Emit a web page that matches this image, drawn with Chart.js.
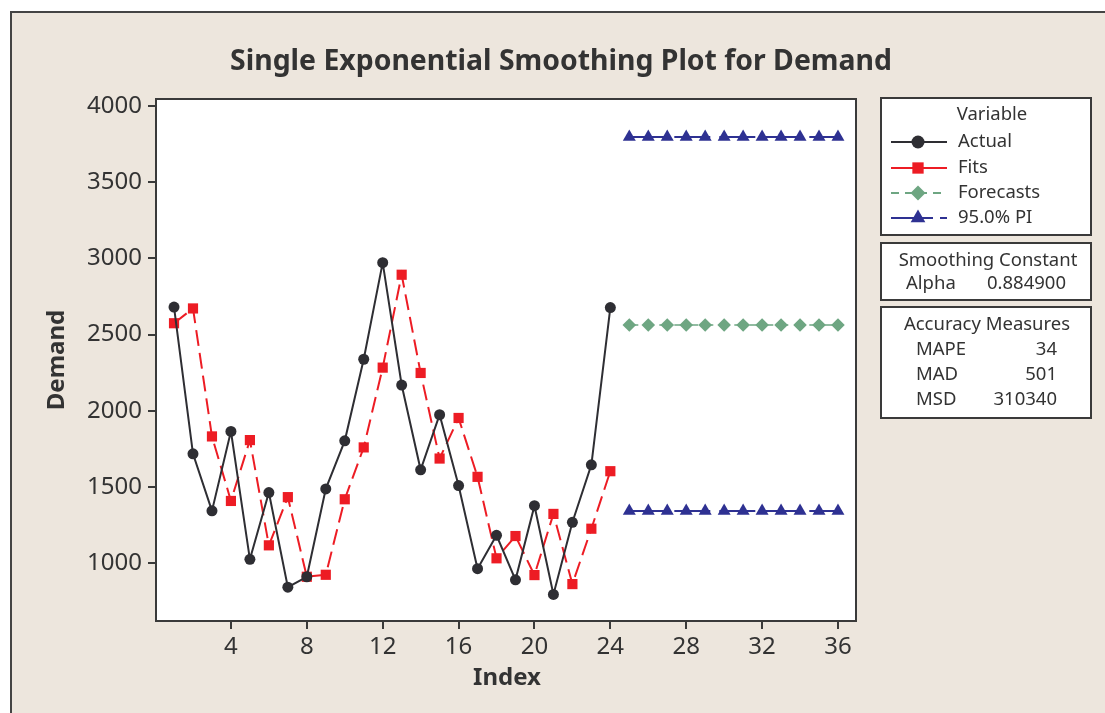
<!DOCTYPE html>
<html>
<head>
<meta charset="utf-8">
<script src="https://cdn.jsdelivr.net/npm/chart.js@4.4.1/dist/chart.umd.min.js"></script>
<style>
  html, body { margin: 0; padding: 0; background: #fff; }
  #wrap { width: 1105px; height: 713px; position: relative; }
</style>
</head>
<body>
<div id="wrap"><canvas id="demand-ses"></canvas></div>
<script>
// data
const actualIndex = [1, 2, 3, 4, 5, 6, 7, 8, 9, 10, 11, 12, 13, 14, 15, 16, 17, 18, 19, 20, 21, 22, 23, 24];
const actualDemand = [2680, 1718, 1344, 1865, 1026, 1464, 844, 912, 1488, 1803, 2338, 2971, 2169, 1613, 1974, 1510, 965, 1184, 892, 1378, 796, 1269, 1646, 2677];
const fitsDemand = [2574, 2671, 1832, 1409, 1808, 1118, 1434, 912, 925, 1420, 1760, 2283, 2892, 2248, 1687, 1953, 1567, 1033, 1179, 923, 1324, 864, 1227, 1604];
const forecastIndex = [25, 26, 27, 28, 29, 30, 31, 32, 33, 34, 35, 36];
const forecastDemand = [2562, 2562, 2562, 2562, 2562, 2562, 2562, 2562, 2562, 2562, 2562, 2562];
const upperPI = [3795, 3795, 3795, 3795, 3795, 3795, 3795, 3795, 3795, 3795, 3795, 3795];
const lowerPI = [1343, 1343, 1343, 1343, 1343, 1343, 1343, 1343, 1343, 1343, 1343, 1343];

const xTickValues = [4, 8, 12, 16, 20, 24, 28, 32, 36];
const yTickValues = [1000, 1500, 2000, 2500, 3000, 3500, 4000];

const chartTitle = 'Single Exponential Smoothing Plot for Demand';
const xTitle = 'Index';
const yTitle = 'Demand';
const legendTitle = 'Variable';
const seriesNames = ['Actual', 'Fits', 'Forecasts', '95.0% PI'];
const smoothingRows = [['Alpha', '0.884900']];
const accuracyRows = [['MAPE', '34'], ['MAD', '501'], ['MSD', '310340']];

const colActual = '#2e2e33';
const colFits = '#ed1c24';
const colForecast = '#6ea682';
const colPI = '#2e3192';
const frameCol = '#3a3a3a';
const textCol = '#333333';
const bgCol = '#ede6dd';
const fontName = '"Noto Sans", "DejaVu Sans", sans-serif';

const PI_DASH = [36, 9];
const FC_DASH = [9, 6];
const FIT_DASH = [16, 7];

function pairs(xs, ys) {
    return xs.map((x, i) => ({ x: x, y: ys[i] }));
}

// marker drawing for the legend
function drawMarker(ctx, style, x, y, r, color) {
    ctx.save();
    ctx.fillStyle = color;
    ctx.beginPath();
    if (style === 'circle') {
        ctx.arc(x, y, r, 0, Math.PI * 2);
    } else if (style === 'rect') {
        const s = r * Math.SQRT1_2;
        ctx.rect(x - s, y - s, 2 * s, 2 * s);
    } else if (style === 'rectRot') {
        ctx.moveTo(x - r, y); ctx.lineTo(x, y - r); ctx.lineTo(x + r, y); ctx.lineTo(x, y + r);
        ctx.closePath();
    } else if (style === 'triangle') {
        const a = 2 * Math.PI / 3;
        ctx.moveTo(x, y - r);
        ctx.lineTo(x + Math.sin(a) * r, y - Math.cos(a) * r);
        ctx.lineTo(x + Math.sin(2 * a) * r, y - Math.cos(2 * a) * r);
        ctx.closePath();
    }
    ctx.fill();
    ctx.restore();
}

const decorations = {
    id: 'decorations',
    beforeDraw(chart) {
        const ctx = chart.ctx;
        const a = chart.chartArea;
        ctx.save();
        ctx.fillStyle = '#ffffff';
        ctx.fillRect(0, 0, chart.width, chart.height);
        ctx.fillStyle = bgCol;
        ctx.fillRect(11, 12, chart.width, chart.height);
        ctx.strokeStyle = '#444';
        ctx.lineWidth = 2;
        ctx.beginPath();
        ctx.moveTo(11, chart.height + 5);
        ctx.lineTo(11, 12);
        ctx.lineTo(chart.width + 5, 12);
        ctx.stroke();
        ctx.fillStyle = '#ffffff';
        ctx.fillRect(a.left, a.top, a.right - a.left, a.bottom - a.top);
        ctx.restore();
    },
    afterDraw(chart) {
        const ctx = chart.ctx;
        const a = chart.chartArea;
        ctx.save();
        // plot frame
        ctx.strokeStyle = frameCol;
        ctx.lineWidth = 2;
        ctx.strokeRect(a.left, a.top, a.right - a.left, a.bottom - a.top);

        // title, fitted to the width seen in the picture
        ctx.fillStyle = textCol;
        ctx.font = 'bold 26px ' + fontName;
        const tw = ctx.measureText(chartTitle).width;
        const ts = 26 * 663 / tw;
        ctx.font = 'bold ' + ts.toFixed(1) + 'px ' + fontName;
        ctx.textAlign = 'center';
        ctx.textBaseline = 'middle';
        ctx.fillText(chartTitle, 561, 62);

        // axis titles
        ctx.font = 'bold 24px ' + fontName;
        ctx.fillText(xTitle, 507, 678);
        ctx.save();
        ctx.translate(57, 360);
        ctx.rotate(-Math.PI / 2);
        ctx.fillText(yTitle, 0, 0);
        ctx.restore();

        // side boxes
        const bx = 881, bw = 210;
        ctx.lineWidth = 2;
        ctx.strokeStyle = frameCol;
        [[98, 137], [243, 57], [307, 111]].forEach(b => {
            ctx.fillStyle = '#ffffff';
            ctx.fillRect(bx, b[0], bw, b[1]);
            ctx.strokeRect(bx, b[0], bw, b[1]);
        });

        ctx.fillStyle = textCol;
        ctx.font = '18.5px ' + fontName;
        ctx.textAlign = 'center';
        ctx.fillText(legendTitle, 992, 115);

        const rows = [
            { y: 142, col: colActual, dash: [], marker: 'circle', r: 6.5 },
            { y: 168, col: colFits, dash: [], marker: 'rect', r: 8 },
            { y: 193, col: colForecast, dash: [8, 6], marker: 'rectRot', r: 7.5 },
            { y: 218, col: colPI, dash: [42, 7], marker: 'triangle', r: 8.5 }
        ];
        rows.forEach((row, i) => {
            ctx.save();
            ctx.strokeStyle = row.col;
            ctx.lineWidth = 2;
            ctx.setLineDash(row.dash);
            ctx.beginPath();
            ctx.moveTo(891, row.y);
            ctx.lineTo(947, row.y);
            ctx.stroke();
            ctx.restore();
            drawMarker(ctx, row.marker, 918, row.y, row.r, row.col);
            ctx.fillStyle = textCol;
            ctx.textAlign = 'left';
            ctx.fillText(seriesNames[i], 958, row.y);
        });

        ctx.textAlign = 'center';
        ctx.fillText('Smoothing Constant', 988, 261);
        smoothingRows.forEach((r, i) => {
            ctx.textAlign = 'left';
            ctx.fillText(r[0], 906, 284 + i * 25);
            ctx.textAlign = 'right';
            ctx.fillText(r[1], 1066, 284 + i * 25);
        });
        ctx.textAlign = 'center';
        ctx.fillText('Accuracy Measures', 987, 325);
        accuracyRows.forEach((r, i) => {
            ctx.textAlign = 'left';
            ctx.fillText(r[0], 916, 350 + i * 25);
            ctx.textAlign = 'right';
            ctx.fillText(r[1], 1057, 350 + i * 25);
        });
        ctx.restore();
    }
};

const sesConfig = {
    type: 'line',
    data: {
        datasets: [
            {
                label: seriesNames[0],
                data: pairs(actualIndex, actualDemand),
                borderColor: colActual,
                backgroundColor: colActual,
                borderWidth: 2,
                pointStyle: 'circle',
                pointRadius: 5.5,
                pointBorderWidth: 0,
                tension: 0,
            },
            {
                label: seriesNames[1],
                data: pairs(actualIndex, fitsDemand),
                borderColor: colFits,
                backgroundColor: colFits,
                borderWidth: 2,
                borderDash: FIT_DASH,
                pointStyle: 'rect',
                pointRadius: 7.2,
                pointBorderWidth: 0,
                tension: 0,
            },
            {
                label: seriesNames[2],
                data: pairs(forecastIndex, forecastDemand),
                borderColor: colForecast,
                backgroundColor: colForecast,
                borderWidth: 1.5,
                borderDash: FC_DASH,
                pointStyle: 'rectRot',
                pointRadius: 6.8,
                pointBorderWidth: 0,
            },
            {
                label: 'Upper PI',
                data: pairs(forecastIndex, upperPI),
                borderColor: colPI,
                backgroundColor: colPI,
                borderWidth: 2,
                borderDash: PI_DASH,
                pointStyle: 'triangle',
                pointRadius: 7.5,
                pointBorderWidth: 0,
            },
            {
                label: 'Lower PI',
                data: pairs(forecastIndex, lowerPI),
                borderColor: colPI,
                backgroundColor: colPI,
                borderWidth: 2,
                borderDash: PI_DASH,
                pointStyle: 'triangle',
                pointRadius: 7.5,
                pointBorderWidth: 0,
            }
        ]
    },
    options: {
        responsive: false,
        animation: false,
        devicePixelRatio: 1,
        layout: { padding: { left: 0, top: 99, right: 249, bottom: 0 } },
        plugins: {
            legend: { display: false },
            title: { display: false },
            tooltip: { enabled: false },
        },
        scales: {
            x: {
                type: 'linear',
                min: 0.05,
                max: 36.95,
                afterFit(scale) { scale.height = 92; },
                afterBuildTicks(scale) { scale.ticks = xTickValues.map(v => ({ value: v })); },
                grid: { drawOnChartArea: false, drawTicks: true, tickLength: 8, color: frameCol, lineWidth: 2 },
                border: { display: true, color: frameCol, width: 2 },
                ticks: { color: textCol, padding: 4, font: { family: fontName, size: 24 }, maxRotation: 0,
                         callback: v => String(v) },
            },
            y: {
                type: 'linear',
                min: 622,
                max: 4044,
                afterFit(scale) { scale.width = 156; },
                afterBuildTicks(scale) { scale.ticks = yTickValues.map(v => ({ value: v })); },
                grid: { drawOnChartArea: false, drawTicks: true, tickLength: 8, color: frameCol, lineWidth: 2 },
                border: { display: true, color: frameCol, width: 2 },
                ticks: { color: textCol, padding: 6, font: { family: fontName, size: 24 },
                         callback: v => String(v) },
            }
        }
    },
    plugins: [decorations]
};

const canvas = document.getElementById('demand-ses');
canvas.width = 1105;
canvas.height = 713;
const sesChart = new Chart(canvas, sesConfig);
</script>
</body>
</html>
